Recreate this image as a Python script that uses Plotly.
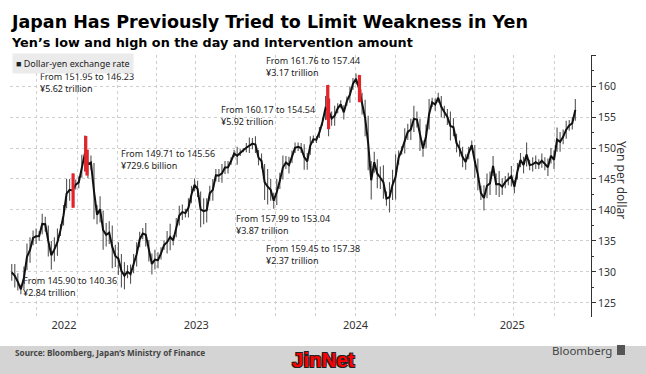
import plotly.graph_objects as go
import pandas as pd

# Weekly USD/JPY low/high (week starting Mon 2022-05-02)
week_low = [
    128.6, 127.5, 127.0, 126.4, 127.2, 130.3, 131.5, 134.3, 134.5, 135.0,
    136.1, 136.5, 132.5, 130.4, 131.7, 132.6, 135.8, 137.5, 140.3, 141.5,
    140.4, 143.3, 143.5, 145.2, 146.2, 145.1, 146.5, 138.5, 137.7, 138.0,
    133.6, 134.1, 134.5, 130.6, 130.8,
    129.5, 127.5, 127.2, 129.0, 128.1, 129.8, 130.9, 134.0, 135.3, 134.1,
    131.7, 129.6, 130.4, 130.6, 132.0, 133.6, 133.0, 133.5, 134.3, 135.6,
    137.5, 138.4, 138.8, 138.8, 141.1, 143.0, 142.1, 137.2, 137.7, 138.0,
    141.5, 141.5, 144.6, 144.5, 144.4, 145.8, 145.9, 147.3, 148.5, 147.3,
    148.7, 149.3, 149.3, 149.2, 149.8, 149.2, 147.2, 146.7, 141.6, 140.9,
    141.5, 140.2,
    140.8, 143.4, 144.9, 146.6, 145.9, 147.6, 149.2, 149.5, 149.2, 146.5,
    146.5, 148.9, 150.8, 150.8, 151.6, 153.6, 154.5, 151.9, 153.6, 153.6,
    155.6, 156.4, 154.6, 156.8, 157.3, 159.4, 160.3, 157.4, 155.4, 151.9,
    146.4, 141.7, 146.0, 143.5, 143.4, 141.8, 140.7, 139.6, 141.6, 141.7,
    147.3, 148.9, 149.1, 151.3, 151.3, 152.6, 153.3, 149.5, 148.6, 150.0,
    153.0, 156.6,
    156.0, 157.3, 154.9, 154.8, 153.7, 151.2, 151.9, 149.3, 148.6, 146.9,
    146.5, 148.2, 149.7, 145.2, 143.2, 141.6, 139.9, 141.9, 142.4, 145.5,
    142.4, 142.1, 142.4, 143.5, 144.0, 143.8, 142.7, 144.9, 146.9, 145.9,
    147.0, 146.4, 146.2, 146.6, 146.6, 146.8, 146.4, 145.5, 147.5, 146.6,
    149.4, 149.4, 150.6, 151.5, 152.8, 153.0, 154.4,
]
week_high = [
    131.3, 131.3, 129.8, 128.0, 130.9, 134.6, 135.6, 136.7, 137.0, 136.6,
    139.4, 138.9, 137.5, 135.0, 135.6, 137.0, 137.7, 140.8, 145.0, 145.0,
    145.9, 144.9, 145.4, 148.9, 152.0, 149.7, 148.8, 147.6, 140.8, 142.2,
    139.9, 137.9, 138.2, 137.5, 134.4,
    134.8, 132.9, 131.6, 131.1, 131.2, 132.9, 134.8, 136.5, 137.1, 137.9,
    135.1, 133.0, 133.6, 133.2, 134.0, 135.1, 136.6, 137.8, 135.9, 138.7,
    140.7, 140.9, 140.2, 141.9, 143.9, 145.1, 144.7, 143.0, 141.9, 141.9,
    143.9, 145.0, 146.6, 146.6, 147.4, 147.9, 147.9, 148.5, 149.7, 150.2,
    149.8, 150.0, 150.8, 151.7, 151.6, 151.9, 149.7, 149.1, 147.4, 146.6,
    145.0, 142.8,
    145.0, 146.0, 148.8, 148.7, 148.6, 149.6, 150.9, 150.9, 150.8, 150.6,
    149.2, 151.9, 152.0, 151.9, 153.4, 154.8, 158.4, 160.2, 155.9, 156.8,
    157.2, 157.7, 156.9, 158.3, 159.9, 161.3, 162.0, 161.8, 158.9, 157.8,
    155.2, 147.9, 149.4, 148.2, 147.0, 147.2, 143.0, 144.5, 146.5, 149.0,
    149.6, 150.3, 153.2, 153.9, 154.7, 156.8, 155.9, 154.7, 151.2, 153.8,
    157.9, 158.1,
    158.0, 158.9, 158.4, 156.8, 156.3, 155.9, 154.8, 152.3, 151.2, 150.2,
    149.0, 150.2, 151.2, 150.5, 148.3, 143.9, 144.0, 145.9, 146.2, 148.7,
    145.9, 146.3, 145.1, 145.5, 146.0, 147.1, 144.8, 147.6, 149.2, 148.6,
    150.9, 148.1, 148.5, 148.8, 148.2, 149.1, 148.5, 148.3, 150.0, 149.6,
    153.3, 152.6, 153.0, 154.4, 154.5, 155.0, 157.9,
]
week_dates = pd.date_range("2022-05-04", periods=len(week_low), freq="7D")

# Intervention days
interv_dates = ["2022-09-22", "2022-10-21", "2022-10-24", "2024-04-29",
                "2024-05-01", "2024-07-11", "2024-07-12"]
interv_from = [145.90, 151.95, 149.71, 160.17, 157.99, 161.76, 159.45]
interv_to = [140.36, 146.23, 145.56, 154.54, 153.04, 157.44, 157.38]
interv_amount = ["¥2.84 trillion", "¥5.62 trillion", "¥729.6 billion",
                 "¥5.92 trillion", "¥3.87 trillion", "¥3.17 trillion",
                 "¥2.37 trillion"]
# label anchor (pixel positions of text block, left / vertical middle)
label_px = [(21, 286), (38, 83), (119, 159), (219, 115), (234, 224),
            (264, 67), (264, 255)]

year_labels = ["2022", "2023", "2024", "2025"]
year_label_pos = ["2022-09-01", "2023-07-02", "2024-07-02", "2025-06-27"]
y_ticks = [125, 130, 135, 140, 145, 150, 155, 160, 165]

W, H = 646, 374
ML, MR, MT, MB = 10, 55, 55, 57
PW, PH = W - ML - MR, H - MT - MB


def px(x, y):
    return (x - ML) / PW, (H - MB - y) / PH


FONT = "Noto Sans"
BOLD = "DejaVu Sans"

fig = go.Figure()

# high-low bars (thin, grey) and the mid path (black)
bx, by = [], []
for d, lo, hi in zip(week_dates, week_low, week_high):
    bx += [d, d, None]
    by += [lo, hi, None]
fig.add_trace(go.Scatter(x=bx, y=by, mode="lines",
                         line=dict(color="#555555", width=1.1),
                         hoverinfo="skip", showlegend=False))
mid = [(lo + hi) / 2 for lo, hi in zip(week_low, week_high)]
fig.add_trace(go.Scatter(x=week_dates, y=mid, mode="lines",
                         line=dict(color="#111111", width=2.0),
                         hoverinfo="skip", showlegend=False))

rx, ry = [], []
for d, a, b in zip(interv_dates, interv_from, interv_to):
    rx += [d, d, None]
    ry += [b, a, None]
fig.add_trace(go.Scatter(x=rx, y=ry, mode="lines",
                         line=dict(color="#e3242b", width=3.2),
                         hoverinfo="skip", showlegend=False))

ann = []
for (lx, ly), a, b, amt in zip(label_px, interv_from, interv_to, interv_amount):
    xp, yp = px(lx, ly)
    ann.append(dict(x=xp, y=yp, xref="paper", yref="paper",
                    xanchor="left", yanchor="middle", align="left",
                    text=f"From {a:.2f} to {b:.2f}<br>{amt}", showarrow=False,
                    font=dict(family=FONT, size=9, color="#222222")))

# titles
xp, yp = px(9, 22)
ann.append(dict(x=xp, y=yp, xref="paper", yref="paper", xanchor="left",
                yanchor="middle", showarrow=False,
                text="<b>Japan Has Previously Tried to Limit Weakness in Yen</b>",
                font=dict(family=BOLD, size=17.5, color="#000000")))
xp, yp = px(9, 43)
ann.append(dict(x=xp, y=yp, xref="paper", yref="paper", xanchor="left",
                yanchor="middle", showarrow=False,
                text="<b>Yen’s low and high on the day and intervention amount</b>",
                font=dict(family=BOLD, size=12.8, color="#000000")))
# legend box
xp, yp = px(12, 63)
ann.append(dict(x=xp, y=yp, xref="paper", yref="paper", xanchor="left",
                yanchor="middle", showarrow=False, bgcolor="#ebebeb",
                borderpad=3,
                text="■ Dollar-yen exchange rate",
                font=dict(family=FONT, size=9, color="#222222")))
# y-axis title
xp, yp = px(622, 180)
ann.append(dict(x=xp, y=yp, xref="paper", yref="paper", xanchor="center",
                yanchor="middle", showarrow=False, textangle=90,
                text="Yen per dollar",
                font=dict(family=FONT, size=12, color="#333333")))
# footer
xp, yp = px(13, 353)
ann.append(dict(x=xp, y=yp, xref="paper", yref="paper", xanchor="left",
                yanchor="middle", showarrow=False,
                text="<b>Source: Bloomberg, Japan’s Ministry of Finance</b>",
                font=dict(family=FONT, size=8.2, color="#444444")))
xp, yp = px(614, 350)
ann.append(dict(x=xp, y=yp, xref="paper", yref="paper", xanchor="right",
                yanchor="middle", showarrow=False, text="Bloomberg",
                font=dict(family=FONT, size=11.5, color="#444444")))
xp, yp = px(323, 360)
ann.append(dict(x=xp, y=yp, xref="paper", yref="paper", xanchor="center",
                yanchor="middle", showarrow=False, text="<b>JinNet</b>",
                font=dict(family="Liberation Sans", size=20.5, color="#ff0000",
                          shadow="1px 1px 0 #222, -1px -1px 0 #222, 1px -1px 0 #222, -1px 1px 0 #222")))

shapes = []
x0, y0 = px(0, 346)
x1, y1 = px(W, H)
shapes.append(dict(type="rect", xref="paper", yref="paper", x0=x0, y0=y0,
                   x1=x1, y1=y1, fillcolor="#d4d4d4", line=dict(width=0),
                   layer="below"))
x0, y0 = px(617, 345)
x1, y1 = px(625, 355)
shapes.append(dict(type="rect", xref="paper", yref="paper", x0=x0, y0=y0,
                   x1=x1, y1=y1, fillcolor="#555555", line=dict(width=0)))

fig.update_layout(
    width=W, height=H, margin=dict(l=ML, r=MR, t=MT, b=MB),
    paper_bgcolor="white", plot_bgcolor="white",
    annotations=ann, shapes=shapes, showlegend=False,
    xaxis=dict(
        type="date", range=["2022-04-30", "2025-12-25"],
        tickvals=year_label_pos, ticktext=year_labels, ticks="",
        showgrid=False, zeroline=False, showline=False,
        tickfont=dict(family=FONT, size=11, color="#333333"),
        minor=dict(tick0="2022-01-01", dtick="M3", showgrid=True,
                   gridcolor="#cfcfcf", griddash="dot", gridwidth=1, ticks=""),
    ),
    yaxis=dict(
        side="right", range=[122.74, 165], tickvals=y_ticks,
        ticktext=[str(v) if v < 165 else "" for v in y_ticks],
        showgrid=True, gridcolor="#cfcfcf", griddash="dot", gridwidth=1,
        showline=True, linecolor="#333333", linewidth=1,
        ticks="outside", ticklen=4, tickcolor="#333333",
        tickfont=dict(family=FONT, size=10.5, color="#333333"),
        zeroline=False,
        minor=dict(dtick=2.5, tick0=125, ticks="outside", ticklen=2,
                   tickcolor="#333333", showgrid=False),
    ),
)

fig.write_html("out.html", config={"displayModeBar": False},
               post_script="document.body.style.margin='0px';")
